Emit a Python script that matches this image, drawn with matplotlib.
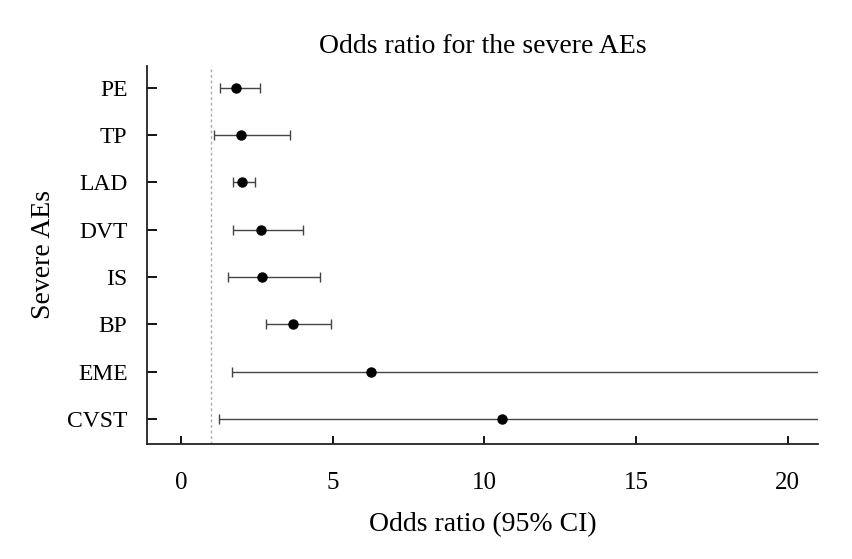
import matplotlib
matplotlib.use('Agg')
import matplotlib.pyplot as plt
import numpy as np

# severe adverse events, top to bottom
events = ['PE', 'TP', 'LAD', 'DVT', 'IS', 'BP', 'EME', 'CVST']
odds = [1.81, 1.98, 2.02, 2.64, 2.67, 3.70, 6.27, 10.6]
ci_low = [1.29, 1.09, 1.72, 1.72, 1.55, 2.80, 1.68, 1.25]
ci_high = [2.61, 3.60, 2.44, 4.03, 4.59, 4.95, 40.0, 40.0]

plt.rcParams['font.family'] = ['Liberation Serif', 'DejaVu Serif']

fig = plt.figure(figsize=(8.52, 5.59), dpi=100)
ax = fig.add_axes([0.1725, 0.2057, 0.7875, 0.6763])

y = np.arange(len(events))[::-1] + 1
odds = np.array(odds)
low = odds - np.array(ci_low)
high = np.array(ci_high) - odds

ax.axvline(1, color='#aaaaaa', lw=1, ls=(0, (2, 2)), zorder=1)
ax.errorbar(odds, y, xerr=[low, high], fmt='none', ecolor='#444444',
            elinewidth=1, capsize=3.5, capthick=1, zorder=2)
ax.plot(odds, y, 'o', color='black', markersize=6.5, zorder=3)

ax.set_xlim(-1.12, 21.0)
ax.set_ylim(0.47, 8.46)
ax.set_xticks([0, 5, 10, 15, 20])
ax.set_yticks(y)
ax.set_yticklabels(events)

for s in ['top', 'right']:
    ax.spines[s].set_visible(False)
for s in ['left', 'bottom']:
    ax.spines[s].set_linewidth(1.3)
    ax.spines[s].set_color('#222222')

ax.tick_params(axis='x', direction='in', length=6, width=1.3, pad=20, labelsize=18)
ax.tick_params(axis='y', direction='in', length=7, width=1.3, pad=14, labelsize=17)

ax.set_title('Odds ratio for the severe AEs', fontsize=20, pad=9)
ax.set_xlabel('Odds ratio (95% CI)', fontsize=20, labelpad=13)
ax.set_ylabel('Severe AEs', fontsize=20, labelpad=8)

fig.savefig('out.png', dpi=100)
